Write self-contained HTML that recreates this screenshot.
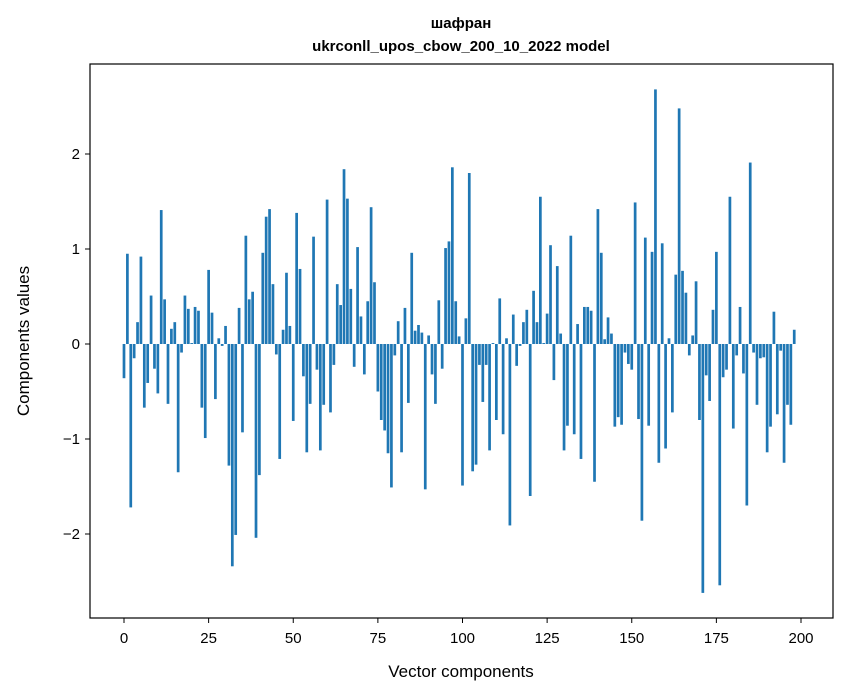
<!DOCTYPE html>
<html><head><meta charset="utf-8"><style>
html,body{margin:0;padding:0;background:#fff;}
svg{display:block;font-family:"Liberation Sans","DejaVu Sans",sans-serif;}
</style></head><body>
<svg id="chart" width="847" height="696" viewBox="0 0 847 696">
<text x="461" y="28" text-anchor="middle" font-size="15" font-weight="bold">шафран</text>
<text x="461" y="51" text-anchor="middle" font-size="15" font-weight="bold">ukrconll_upos_cbow_200_10_2022 model</text>
<g id="bars"></g>
<g id="xticks"></g>
<g id="yticks"></g>
<rect x="90" y="64" width="743" height="554" fill="none" stroke="#000" stroke-width="1.2"/>
<text x="461" y="677" text-anchor="middle" font-size="17">Vector components</text>
<text transform="translate(29,341) rotate(-90)" text-anchor="middle" font-size="17">Components values</text>
</svg>
<script>
const values = [
-0.36,0.95,-1.72,-0.15,0.23,0.92,-0.67,-0.41,0.51,-0.26,
-0.52,1.41,0.47,-0.63,0.16,0.23,-1.35,-0.09,0.51,0.37,
0.01,0.39,0.35,-0.67,-0.99,0.78,0.33,-0.58,0.06,-0.02,
0.19,-1.28,-2.34,-2.01,0.38,-0.93,1.14,0.47,0.55,-2.04,
-1.38,0.96,1.34,1.42,0.63,-0.11,-1.21,0.15,0.75,0.19,
-0.81,1.38,0.79,-0.34,-1.14,-0.63,1.13,-0.27,-1.12,-0.64,
1.52,-0.72,-0.22,0.63,0.41,1.84,1.53,0.58,-0.24,1.02,
0.29,-0.32,0.45,1.44,0.65,-0.50,-0.80,-0.91,-1.15,-1.51,
-0.12,0.24,-1.14,0.38,-0.62,0.96,0.14,0.20,0.12,-1.53,
0.09,-0.32,-0.63,0.46,-0.26,1.01,1.08,1.86,0.45,0.08,
-1.49,0.27,1.80,-1.34,-1.27,-0.22,-0.61,-0.22,-1.12,0.01,
-0.80,0.48,-0.95,0.06,-1.91,0.31,-0.23,-0.02,0.23,0.36,
-1.60,0.56,0.23,1.55,0.01,0.32,1.04,-0.38,0.82,0.11,
-1.12,-0.86,1.14,-0.95,0.21,-1.21,0.39,0.39,0.35,-1.45,
1.42,0.96,0.05,0.28,0.11,-0.87,-0.77,-0.85,-0.09,-0.21,
-0.27,1.49,-0.79,-1.86,1.12,-0.86,0.97,2.68,-1.25,1.06,
-1.10,0.06,-0.72,0.73,2.48,0.77,0.54,-0.12,0.09,0.66,
-0.80,-2.62,-0.33,-0.60,0.36,0.97,-2.54,-0.35,-0.27,1.55,
-0.89,-0.12,0.39,-0.31,-1.70,1.91,-0.09,-0.64,-0.15,-0.14,
-1.14,-0.87,0.34,-0.74,-0.07,-1.25,-0.64,-0.85,0.15,0.00
];
const xTicks = [0,25,50,75,100,125,150,175,200];
const yTicks = [-2,-1,0,1,2];
const yTickLabels = ["\u22122","\u22121","0","1","2"];

const NS = "http://www.w3.org/2000/svg";
const X0 = 124, XS = 3.385, Y0 = 344, YS = 95;
function xs(v){ return X0 + v*XS; }
function ys(v){ return Y0 - v*YS; }
const gb = document.getElementById('bars');
values.forEach(function(v,i){
  const r = document.createElementNS(NS,'rect');
  const top = Math.min(ys(v), ys(0));
  r.setAttribute('x', xs(i-0.4));
  r.setAttribute('y', top);
  r.setAttribute('width', 0.8*XS);
  r.setAttribute('height', Math.abs(ys(v)-ys(0)));
  r.setAttribute('fill', '#1f77b4');
  
  
  gb.appendChild(r);
});
const gx = document.getElementById('xticks');
xTicks.forEach(function(t){
  const l = document.createElementNS(NS,'line');
  l.setAttribute('x1', xs(t)); l.setAttribute('x2', xs(t));
  l.setAttribute('y1', 618); l.setAttribute('y2', 623);
  l.setAttribute('stroke', '#000');
  
  
  gx.appendChild(l);
  const tx = document.createElementNS(NS,'text');
  tx.setAttribute('x', xs(t)); tx.setAttribute('y', 643);
  tx.setAttribute('text-anchor', 'middle'); tx.setAttribute('font-size', '15');
  tx.textContent = String(t);
  
  
  gx.appendChild(tx);
});
const gy = document.getElementById('yticks');
yTicks.forEach(function(t,i){
  const l = document.createElementNS(NS,'line');
  l.setAttribute('x1', 85); l.setAttribute('x2', 90);
  l.setAttribute('y1', ys(t)); l.setAttribute('y2', ys(t));
  l.setAttribute('stroke', '#000');
  
  
  gy.appendChild(l);
  const tx = document.createElementNS(NS,'text');
  tx.setAttribute('x', 80); tx.setAttribute('y', ys(t)+5);
  tx.setAttribute('text-anchor', 'end'); tx.setAttribute('font-size', '15');
  tx.textContent = yTickLabels[i];
  
  
  gy.appendChild(tx);
});
</script>
</body></html>
